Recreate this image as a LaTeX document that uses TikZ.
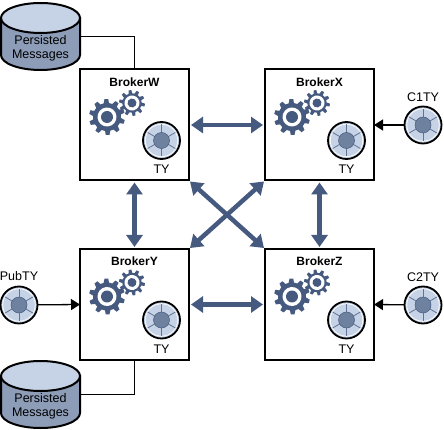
\documentclass[tikz,border=0pt]{standalone}
\usepackage{fontspec}
\setmainfont{Liberation Sans}
\usetikzlibrary{arrows.meta,calc}
\definecolor{geardark}{HTML}{465A80}
\definecolor{lightblue}{HTML}{C6D3E6}
\definecolor{sideblue}{HTML}{8D9DB8}
\definecolor{hubblue}{HTML}{6E829F}
\tikzset{
  broker/.style={draw=black,line width=2pt,fill=white,minimum width=109pt,minimum height=111pt,inner sep=0pt,outer sep=0pt},
  wheel/.style={circle,draw=black,line width=1.8pt,fill=lightblue,minimum size=37pt,inner sep=0pt,outer sep=0pt},
  txt/.style={font=\fontsize{12.5}{14}\selectfont,inner sep=0pt,align=center},
  title/.style={font=\fontsize{12}{14}\selectfont\bfseries,inner sep=0pt},
  biarrow/.style={draw=geardark,line width=4.5pt,{Triangle[length=12pt,width=16pt]}-{Triangle[length=12pt,width=16pt]}},
  feed/.style={draw=black,line width=1.3pt,-{Triangle[length=9pt,width=11pt]}},
  pipe/.style={draw=black,line width=1.3pt},
}
% gear: x, y, outer radius, root radius, white radius, hub radius, rotation
\newcommand{\gearshape}[7]{%
  \begin{scope}[shift={(#1,#2)},rotate=#7]
    \fill[geardark] (0:#4pt)
      \foreach \a in {0,36,...,324}{
        -- ({\a+5}:#4pt) -- ({\a+9}:#3pt) -- ({\a+21}:#3pt) -- ({\a+27}:#4pt) -- ({\a+36}:#4pt)
      } -- cycle;
    \fill[white] (0,0) circle[radius=#5pt];
    \fill[geardark] (0,0) circle[radius=#6pt];
  \end{scope}}
% wheel: name, x, y
\newcommand{\wheelat}[3]{%
  \node[wheel] (#1) at (#2,#3) {};
  \fill[white] (#2,#3) circle[radius=16.6pt];
  \fill[lightblue] (#2,#3) circle[radius=15.8pt];
  \foreach \a in {30,90,...,330}{
    \draw[geardark!85,line width=0.8pt] (#2,#3) -- ++(\a:16pt);
  }
  \fill[hubblue,draw=geardark,line width=0.5pt] (#2,#3) circle[radius=8pt];
}
% cylinder: name, y top
\newcommand{\cyl}[2]{%
  \node[minimum width=79pt,minimum height=67pt,inner sep=0pt,outer sep=0pt] (#1) at (40.5,#2+33.5) {};
  \draw[line width=2pt,fill=sideblue] (1,#2+15) -- (1,#2+52) arc[x radius=39.5pt,y radius=15pt,start angle=180,end angle=360] -- (80,#2+15) -- cycle;
  \draw[line width=2pt,fill=lightblue] (40.5,#2+15) ellipse[x radius=39.5pt,y radius=15pt];
  \node[txt] at (40.5,#2+45) {Persisted\\Messages};
}
\newcommand{\brokerbox}[3]{%
  \node[broker] (#1) at (#2,#3) {};
  \node[title] at (#2+0,#3-43) {Broker#1};
  \gearshape{#2-27.5}{#3-8}{18}{14}{9.5}{6}{5}
  \gearshape{#2-2.5}{#3-22}{13}{9.6}{7.5}{4.5}{12}
  \wheelat{#1wheel}{#2+27}{#3+15.5}
  \node[txt] at (#2+27,#3+44.5) {TY};
}
\begin{document}
\begin{tikzpicture}[x=1pt,y=-1pt]
\useasboundingbox (0,0) rectangle (444,430);
\brokerbox{W}{134.5}{125}
\brokerbox{X}{319.5}{125}
\brokerbox{Y}{134.5}{304.5}
\brokerbox{Z}{319.5}{304.5}
\cyl{storeW}{3}
\cyl{storeY}{361}
\draw[pipe] (storeW.east) -| (W.north);
\draw[pipe] (storeY.east) -| (Y.south);
\draw[biarrow] ([xshift=2pt]W.east) -- ([xshift=-2pt]X.west);
\draw[biarrow] ([xshift=2pt]Y.east) -- ([xshift=-2pt]Z.west);
\draw[biarrow] ([yshift=-2pt]W.south) -- ([yshift=2pt]Y.north);
\draw[biarrow] ([yshift=-2pt]X.south) -- ([yshift=2pt]Z.north);
\draw[biarrow] ([xshift=1pt,yshift=-1pt]W.south east) -- ([xshift=-1pt,yshift=1pt]Z.north west);
\draw[biarrow] ([xshift=-1pt,yshift=-1pt]X.south west) -- ([xshift=1pt,yshift=1pt]Y.north east);
\wheelat{C1}{423}{125}
\wheelat{C2}{423}{305}
\wheelat{Pub}{19}{305}
\node[txt] at (423,97) {C1TY};
\node[txt] at (423,277) {C2TY};
\node[txt] at (19,276) {PubTY};
\draw[feed] (C1) -- (X.east);
\draw[feed] (C2) -- (Z.east);
\draw[feed] (Pub) -- (Y.west);
\end{tikzpicture}
\end{document}
